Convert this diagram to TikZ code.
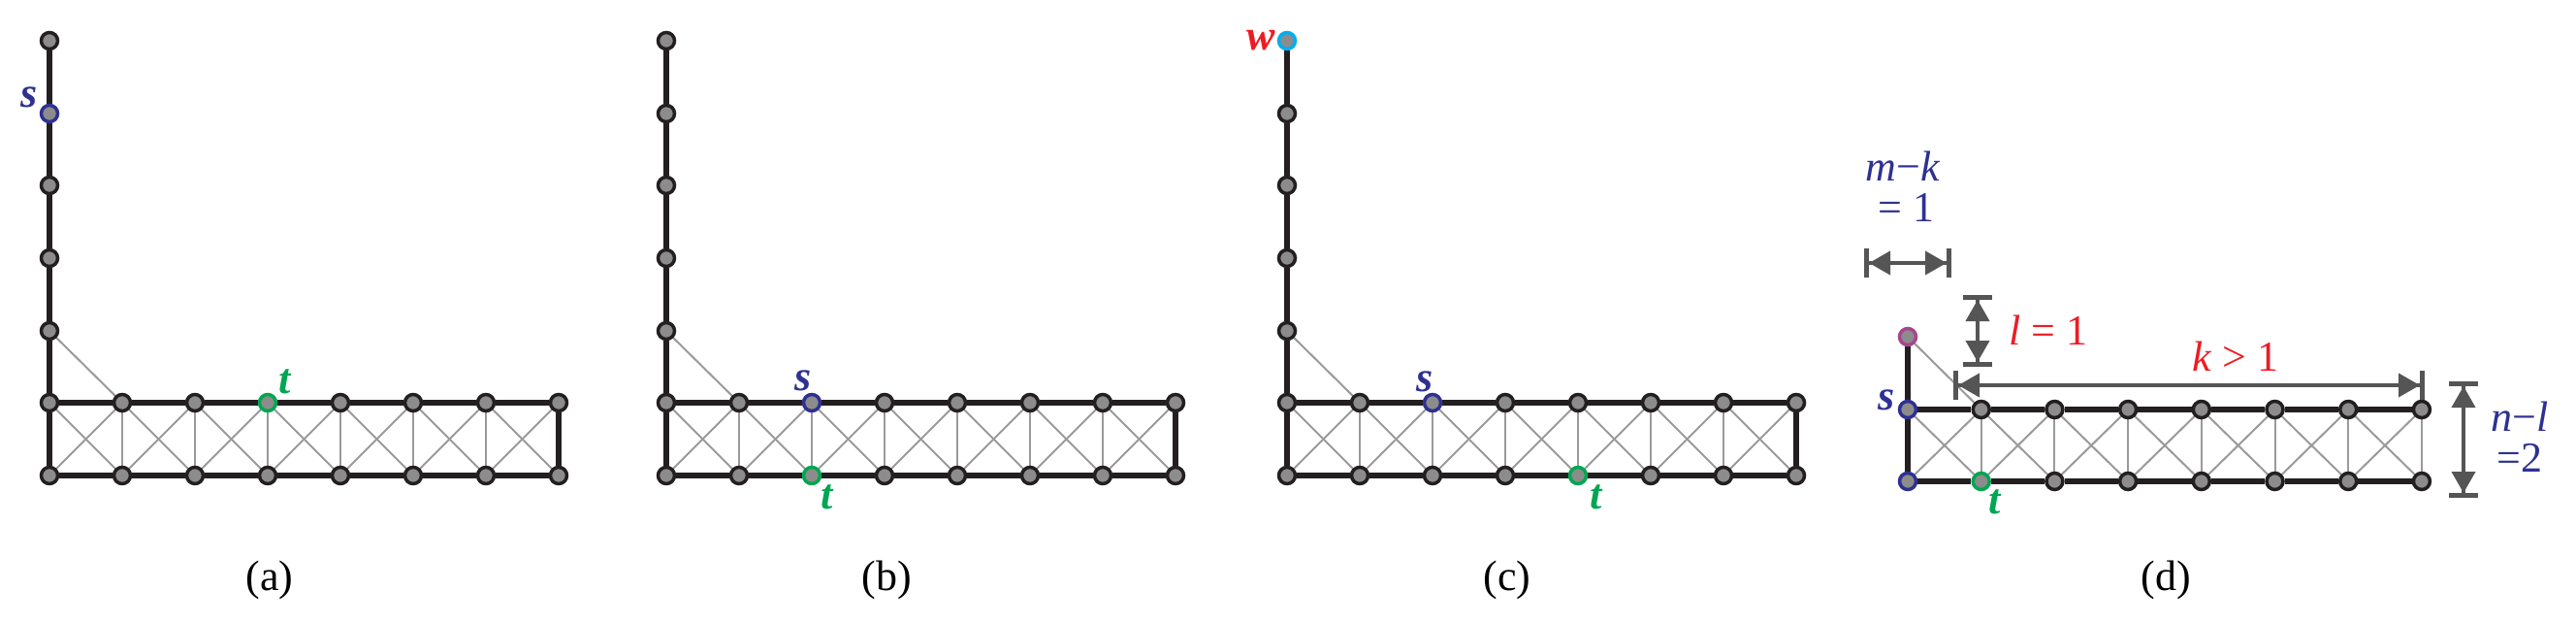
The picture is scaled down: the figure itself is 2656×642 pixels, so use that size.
\documentclass[tikz,border=0pt]{standalone}
\usepackage{fontspec}
\setmainfont{Liberation Serif}
\usetikzlibrary{arrows.meta,backgrounds}
\definecolor{sblue}{HTML}{2E3192}
\definecolor{tgreen}{HTML}{00A651}
\definecolor{wcyan}{HTML}{00AEEF}
\definecolor{ppink}{HTML}{A6458F}
\definecolor{lred}{HTML}{ED1C24}
\definecolor{dimgray}{HTML}{555555}
\definecolor{edgegray}{HTML}{9A9A9A}
\definecolor{nodegray}{HTML}{8C8C8C}
\definecolor{ink}{HTML}{231F20}
\tikzset{
 vx/.style={circle,draw=ink,fill=nodegray,line width=3.5pt,minimum size=17pt,inner sep=0pt},
 hard/.style={line width=6pt,ink},
 soft/.style={line width=2pt,edgegray},
 lab/.style={font=\fontsize{44}{44}\selectfont\bfseries\itshape,inner sep=0pt},
 caption/.style={font=\fontsize{44}{44}\selectfont,inner sep=0pt},
 dimtxt/.style={font=\fontsize{44}{46}\selectfont,inner sep=0pt,align=center},
 dimarrow/.style={line width=4pt,dimgray,{Bar[width=30pt,line width=5pt]Triangle[length=22pt,width=24pt]}-{Triangle[length=22pt,width=24pt]Bar[width=30pt,line width=5pt]}},
 sty-ac1/.style={draw=sblue},
 sty-at3/.style={draw=tgreen},
 sty-bt2/.style={draw=sblue},
 sty-bb2/.style={draw=tgreen},
 sty-cc0/.style={draw=wcyan},
 sty-ct2/.style={draw=sblue},
 sty-cb4/.style={draw=tgreen},
 sty-dt0/.style={draw=sblue},
 sty-db0/.style={draw=sblue},
 sty-db1/.style={draw=tgreen},
}
\newcommand\Lpanel[2]{%
 \foreach \j/\y in {0/42,1/117,2/191,3/266,4/341}{\node[vx,/tikz/sty-#1c\j/.try] (#1c\j) at (#2,\y) {};}
 \foreach \i in {0,...,7}{%
   \node[vx,/tikz/sty-#1t\i/.try] (#1t\i) at ({#2+75*\i},415) {};
   \node[vx,/tikz/sty-#1b\i/.try] (#1b\i) at ({#2+75*\i},490) {};}
 \begin{scope}[on background layer]
  \draw[hard] (#1c0)--(#1c1)--(#1c2)--(#1c3)--(#1c4)--(#1t0)--(#1b0);
  \draw[hard] (#1t7)--(#1b7);
  \draw[soft] (#1c4)--(#1t1);
  \foreach \i [count=\k from 1] in {0,...,6}{%
   \draw[hard] (#1t\i)--(#1t\k);
   \draw[hard] (#1b\i)--(#1b\k);
   \draw[soft] (#1t\i)--(#1b\k);
   \draw[soft] (#1b\i)--(#1t\k);}
  \foreach \i in {1,...,6}{\draw[soft] (#1t\i)--(#1b\i);}
 \end{scope}}
\begin{document}
\begin{tikzpicture}[x=1pt,y=-1pt]
\useasboundingbox (0,0) rectangle (2656,642);
\Lpanel{a}{51}
\Lpanel{b}{687}
\Lpanel{c}{1327}
% panel d
\node[vx,draw=ppink] (dp) at (1967,347) {};
\foreach \i in {0,...,7}{%
  \node[vx,/tikz/sty-dt\i/.try] (dt\i) at ({1967+75.7*\i},422) {};
  \node[vx,/tikz/sty-db\i/.try] (db\i) at ({1967+75.7*\i},496) {};}
\begin{scope}[on background layer]
 \draw[hard] (dp)--(dt0)--(db0);
 \draw[soft] (dp)--(dt1);
 \foreach \i [count=\k from 1] in {0,...,6}{%
   \draw[hard] (dt\i)--(dt\k);
   \draw[hard] (db\i)--(db\k);
   \draw[soft] (dt\i)--(db\k);
   \draw[soft] (db\i)--(dt\k);}
 \foreach \i in {1,...,7}{\draw[soft] (dt\i)--(db\i);}
\end{scope}
% labels
\node[lab,sblue] (las) at (30,100) {s};
\node[lab,tgreen] (lat) at (294,393) {t};
\node[lab,sblue] (lbs) at (828,392) {s};
\node[lab,tgreen] (lbt) at (853,512) {t};
\node[lab,lred] (lcw) at (1300,42) {w};
\node[lab,sblue] (lcs) at (1469,393) {s};
\node[lab,tgreen] (lct) at (1646,512) {t};
\node[lab,sblue] (lds) at (1945,412) {s};
\node[lab,tgreen] (ldt) at (2057,517) {t};
% captions
\node[caption] (capa) at (278,598) {(a)};
\node[caption] (capb) at (914,598) {(b)};
\node[caption] (capc) at (1554,598) {(c)};
\node[caption] (capd) at (2233,598) {(d)};
% dimensions
\coordinate (mk1) at (1922,271); \coordinate (mk2) at (2012,271);
\coordinate (l1) at (2039,304); \coordinate (l2) at (2039,378);
\coordinate (k1) at (2014,397); \coordinate (k2) at (2500,397);
\coordinate (nl1) at (2540,393); \coordinate (nl2) at (2540,513);
\draw[dimarrow] (mk1)--(mk2);
\draw[dimarrow] (l1)--(l2);
\draw[dimarrow] (k1)--(k2);
\draw[dimarrow] (nl1)--(nl2);
\node[dimtxt,sblue] (tmk) at (1962,192) {\textit{m}−\textit{k}\\[-4pt]\,= 1};
\node[dimtxt,lred] (tl) at (2112,340) {\textit{l} = 1};
\node[dimtxt,lred] (tk) at (2305,367) {\textit{k} > 1};
\node[dimtxt,sblue] (tnl) at (2598,450) {\textit{n}−\textit{l}\\[-4pt]=2};
\end{tikzpicture}
\end{document}
